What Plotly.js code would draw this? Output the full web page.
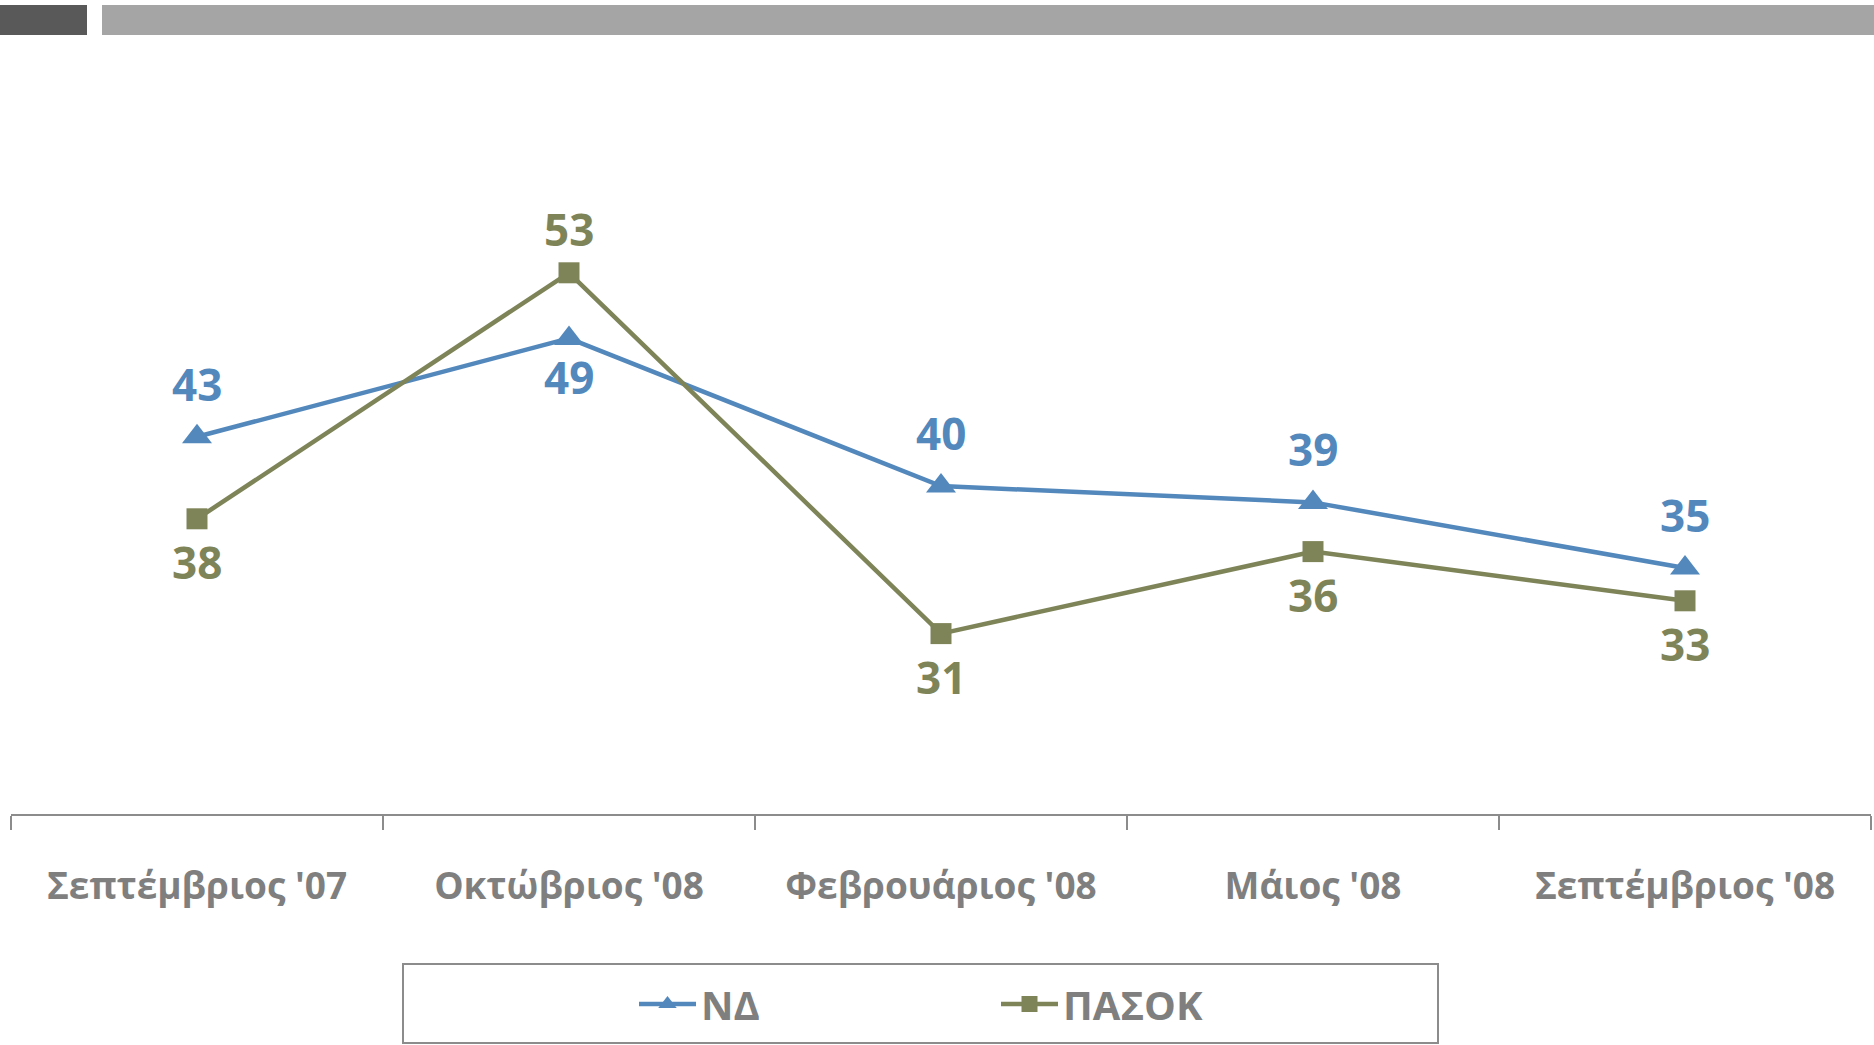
<!DOCTYPE html>
<html>
<head>
<meta charset="utf-8">
<script src="https://cdn.plot.ly/plotly-3.0.1.min.js"></script>
<style>
html,body{margin:0;padding:0;background:#fff;}
#chart{width:1874px;height:1045px;}
</style>
</head>
<body>
<div id="chart"></div>
<script>
var categories = ["Σεπτέμβριος '07", "Οκτώβριος '08", "Φεβρουάριος '08", "Μάιος '08", "Σεπτέμβριος '08"];
var seriesNames = ["ΝΔ", "ΠΑΣΟΚ"];
var ndValues = [43, 49, 40, 39, 35];
var pasokValues = [38, 53, 31, 36, 33];
var ndLabelSide = [1, -1, 1, 1, 1];
var pasokLabelSide = [-1, 1, -1, -1, -1];

var ndColor = '#5388bd';
var pasokColor = '#7e8458';
var grey = '#7f7f7f';
var axisGrey = '#8c8c8c';
var FONT = 'Open Sans, Noto Sans, sans-serif';

var traces = [
  {
    type: 'scatter', mode: 'lines+markers', name: seriesNames[0],
    x: categories, y: ndValues,
    line: {color: ndColor, width: 4.5},
    marker: {symbol: 'triangle-up', size: 26, color: ndColor},
    hoverinfo: 'skip'
  },
  {
    type: 'scatter', mode: 'lines+markers', name: seriesNames[1],
    x: categories, y: pasokValues,
    line: {color: pasokColor, width: 4.5},
    marker: {symbol: 'square', size: 21, color: pasokColor},
    hoverinfo: 'skip'
  }
];

var annotations = [];
function addLabels(vals, sides, color, up, down) {
  vals.forEach(function (v, i) {
    annotations.push({
      x: categories[i], y: v, xref: 'x', yref: 'y',
      text: String(v), showarrow: false,
      yshift: sides[i] > 0 ? up : down,
      font: {family: FONT, size: 44, color: color, weight: 'bold'}
    });
  });
}
addLabels(ndValues, ndLabelSide, ndColor, 53, -39);
addLabels(pasokValues, pasokLabelSide, pasokColor, 44, -43);

var L = 11, R = 3, T = 158, B = 231;
var W = 1874, H = 1045;
var pw = W - L - R, ph = H - T - B;
function px(x) { return (x - L) / pw; }
function py(y) { return (H - B - y) / ph; }

var shapes = [
  {type: 'rect', xref: 'paper', yref: 'paper', x0: px(0), x1: px(87), y0: py(35), y1: py(5),
   fillcolor: '#595959', line: {width: 0}},
  {type: 'rect', xref: 'paper', yref: 'paper', x0: px(102), x1: px(1874), y0: py(35), y1: py(5),
   fillcolor: '#a5a5a5', line: {width: 0}},
  {type: 'rect', xref: 'paper', yref: 'paper', x0: px(403), x1: px(1438), y0: py(1043), y1: py(964),
   fillcolor: 'rgba(0,0,0,0)', line: {color: axisGrey, width: 2}}
];

var layout = {
  width: W, height: H,
  margin: {l: L, r: R, t: T, b: B, pad: 0},
  paper_bgcolor: '#ffffff', plot_bgcolor: '#ffffff',
  showlegend: true,
  legend: {
    orientation: 'h', x: px(634), xanchor: 'left', y: py(1004), yanchor: 'middle',
    font: {family: FONT, size: 40, color: grey, weight: 'bold'},
    itemwidth: 57, entrywidth: 290, entrywidthmode: 'pixels',
    bgcolor: 'rgba(0,0,0,0)', borderwidth: 0
  },
  xaxis: {
    type: 'category', range: [-0.5, 4.5],
    showline: true, linecolor: axisGrey, linewidth: 2,
    ticks: 'outside', tickson: 'boundaries', ticklen: 14, tickwidth: 2, tickcolor: axisGrey,
    showgrid: false, zeroline: false, fixedrange: true,
    tickfont: {family: FONT, size: 37, color: grey, weight: 'bold'},
    ticklabelstandoff: 39
  },
  yaxis: {
    range: [20, 60], visible: false, showgrid: false, zeroline: false, fixedrange: true
  },
  annotations: annotations,
  shapes: shapes
};

Plotly.newPlot('chart', traces, layout, {displayModeBar: false, staticPlot: true});
</script>
</body>
</html>
